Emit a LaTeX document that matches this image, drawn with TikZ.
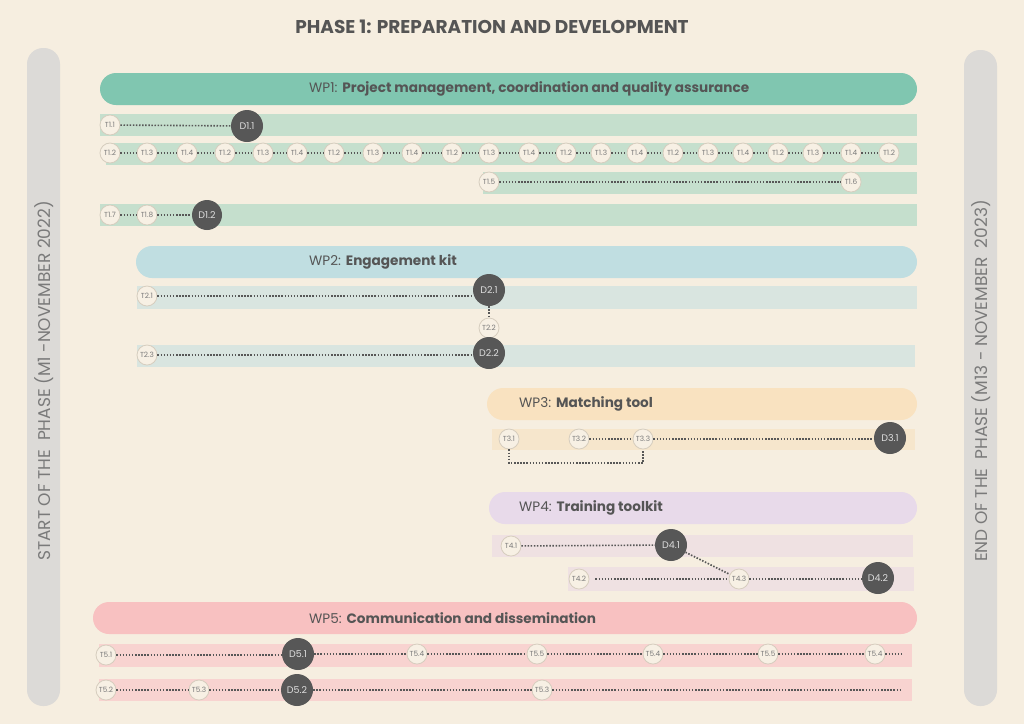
\documentclass[tikz,border=0pt]{standalone}
\usepackage{fontspec}
\setmainfont{Poppins}
\definecolor{bg}{HTML}{F6EEE0}
\definecolor{sidebar}{HTML}{DCDAD7}
\definecolor{wpah}{HTML}{80C6B0}
\definecolor{wpar}{HTML}{C5DFCD}
\definecolor{wpbh}{HTML}{C0DEE1}
\definecolor{wpbr}{HTML}{D9E5E0}
\definecolor{wpch}{HTML}{F9E2C0}
\definecolor{wpcr}{HTML}{F6E6CC}
\definecolor{wpdh}{HTML}{E8DAEA}
\definecolor{wpdr}{HTML}{EFE1E2}
\definecolor{wpeh}{HTML}{F8C1C1}
\definecolor{wper}{HTML}{F8D3D0}
\definecolor{darkc}{HTML}{575757}
\definecolor{txt}{HTML}{555555}
\definecolor{sidetxt}{HTML}{7A7A7A}
\definecolor{taskfill}{HTML}{F7F0E4}
\definecolor{taskdraw}{HTML}{D6CDBE}
\begin{document}
\begin{tikzpicture}[x=1pt,y=-1pt,
  task/.style={circle, draw=taskdraw, line width=0.8pt, fill=taskfill, minimum size=20pt, inner sep=0pt,
    font=\fontsize{7.3}{8}\selectfont, text=sidetxt},
  deliv/.style={circle, fill=darkc, minimum size=32pt, inner sep=0pt,
    font=\fontsize{9.5}{10}\selectfont, text=white!80!darkc},
  link/.style={draw=darkc, line width=1.6pt, dash pattern=on 1.5pt off 1.6pt},
  header/.style={rounded corners=16pt},
  wptext/.style={anchor=west, inner sep=0pt, font=\fontsize{13.6}{15}\selectfont, text=txt},
  sidetext/.style={rotate=90, inner sep=0pt, font=\fontsize{17}{18}\selectfont, text=sidetxt}
]
\useasboundingbox (0,0) rectangle (1024,724);
\fill[bg] (0,0) rectangle (1024,724);

% title
\node[font=\fontsize{18.5}{20}\selectfont\bfseries, text=txt] (title) at (492,27) {PHASE 1: PREPARATION AND DEVELOPMENT};

% side bars
\fill[sidebar, rounded corners=16pt] (27,48) rectangle (60,706);
\fill[sidebar, rounded corners=16pt] (964,50) rectangle (997,706);
\node[sidetext] (start) at (44,381) {START OF THE \ PHASE (M1 -NOVEMBER 2022)};
\node[sidetext] (end) at (981,381) {END OF THE \ PHASE (M13 - NOVEMBER \ 2023)};

% ---------- WP1 ----------
\fill[wpah, header] (100,73) rectangle (917,105);
\node[wptext] (wp1) at (309,89) {WP1: \textbf{Project management, coordination and quality assurance}};
\fill[wpar] (100,114) rectangle (917,136);
\fill[wpar] (106,143) rectangle (917,165);
\fill[wpar] (483,172) rectangle (917,194);
\fill[wpar] (100,204) rectangle (917,226);

\node[task] (t11) at (110,125) {T1.1};
\node[deliv] (d11) at (247,126) {D1.1};
\draw[link] (t11) -- (d11);

\foreach \x [count=\i] in {110,147,187,225,263,297,334,373,412,452,489,529,566,601,637,673,708,743,778,813,851,889}{
  \pgfmathtruncatemacro{\k}{mod(\i-1,3)+2}
  \node[task] (r\i) at (\x,153) {T1.\k};
}
\foreach \i [evaluate=\i as \j using int(\i+1)] in {1,...,21}{
  \draw[link] (r\i) -- (r\j);
}

\node[task] (t15) at (489,182) {T1.5};
\node[task] (t16) at (851,182) {T1.6};
\draw[link] (t15) -- (t16);

\node[task] (t17) at (110,215) {T1.7};
\node[task] (t18) at (147,215) {T1.8};
\node[deliv, minimum size=30pt] (d12) at (207,215) {D1.2};
\draw[link] (t17) -- (t18);
\draw[link] (t18) -- (d12);

% ---------- WP2 ----------
\fill[wpbh, header] (136,246) rectangle (917,278);
\node[wptext] (wp2) at (309,262) {WP2: \textbf{Engagement kit}};
\fill[wpbr] (137,286) rectangle (917,309);
\fill[wpbr] (137,345) rectangle (915,367);

\node[task] (t21) at (147,296) {T2.1};
\node[deliv] (d21) at (489,290) {D2.1};
\node[task] (t22) at (489,328) {T2.2};
\node[task] (t23) at (147,355) {T2.3};
\node[deliv] (d22) at (489,353) {D2.2};
\draw[link] (t21) -- (t21 -| d21.west);
\draw[link] (d21) -- (t22);
\draw[link] (t23) -- (t23 -| d22.west);

% ---------- WP3 ----------
\fill[wpch, header] (487,388) rectangle (917,420);
\node[wptext] (wp3) at (519,404) {WP3: \textbf{Matching tool}};
\fill[wpcr] (492,429) rectangle (915,450);

\node[task] (t31) at (509,439) {T3.1};
\node[task] (t32) at (579,439) {T3.2};
\node[task] (t33) at (643,439) {T3.3};
\node[deliv] (d31) at (890,438) {D3.1};
\coordinate (c31) at (509,463);
\coordinate (c33) at (643,463);
\draw[link] (t32) -- (t33);
\draw[link] (t33) -- (t33 -| d31.west);
\draw[link] (t31) -- (c31) -- (c33) -- (t33);

% ---------- WP4 ----------
\fill[wpdh, header] (489,492) rectangle (917,524);
\node[wptext] (wp4) at (519,508) {WP4: \textbf{Training toolkit}};
\fill[wpdr] (492,535) rectangle (913,557);
\fill[wpdr] (568,567) rectangle (914,591);

\node[task] (t41) at (511,546) {T4.1};
\node[deliv] (d41) at (671,545) {D4.1};
\node[task] (t42) at (579,579) {T4.2};
\node[task] (t43) at (739,579) {T4.3};
\node[deliv] (d42) at (878,578) {D4.2};
\draw[link] (t41) -- (d41);
\draw[link] (d41) -- (t43);
\draw[link, shorten <=6pt] (t42) -- (t43);
\draw[link] (t43) -- (t43 -| d42.west);

% ---------- WP5 ----------
\fill[wpeh, header] (93,602) rectangle (917,634);
\node[wptext] (wp5) at (309,618) {WP5: \textbf{Communication and dissemination}};
\fill[wper] (99,644) rectangle (912,667);
\fill[wper] (99,679) rectangle (912,701);

\node[task] (t51) at (106,655) {T5.1};
\node[deliv] (d51) at (298,654) {D5.1};
\node[task] (t54a) at (417,654) {T5.4};
\node[task] (t55a) at (537,654) {T5.5};
\node[task] (t54b) at (653,654) {T5.4};
\node[task] (t55b) at (768,654) {T5.5};
\node[task] (t54c) at (875,654) {T5.4};
\coordinate (e51) at (901,654);
\draw[link] (t51) -- (t51 -| d51.west);
\draw[link] (d51) -- (t54a);
\draw[link] (t54a) -- (t55a);
\draw[link] (t55a) -- (t54b);
\draw[link] (t54b) -- (t55b);
\draw[link] (t55b) -- (t54c);
\draw[link] (t54c) -- (e51);

\node[task] (t52) at (106,690) {T5.2};
\node[task] (t53a) at (199,690) {T5.3};
\node[deliv] (d52) at (297,690) {D5.2};
\node[task] (t53b) at (542,690) {T5.3};
\coordinate (e52) at (900,690);
\draw[link] (t52) -- (t53a);
\draw[link] (t53a) -- (d52);
\draw[link] (d52) -- (t53b);
\draw[link] (t53b) -- (e52);
\end{tikzpicture}
\end{document}
